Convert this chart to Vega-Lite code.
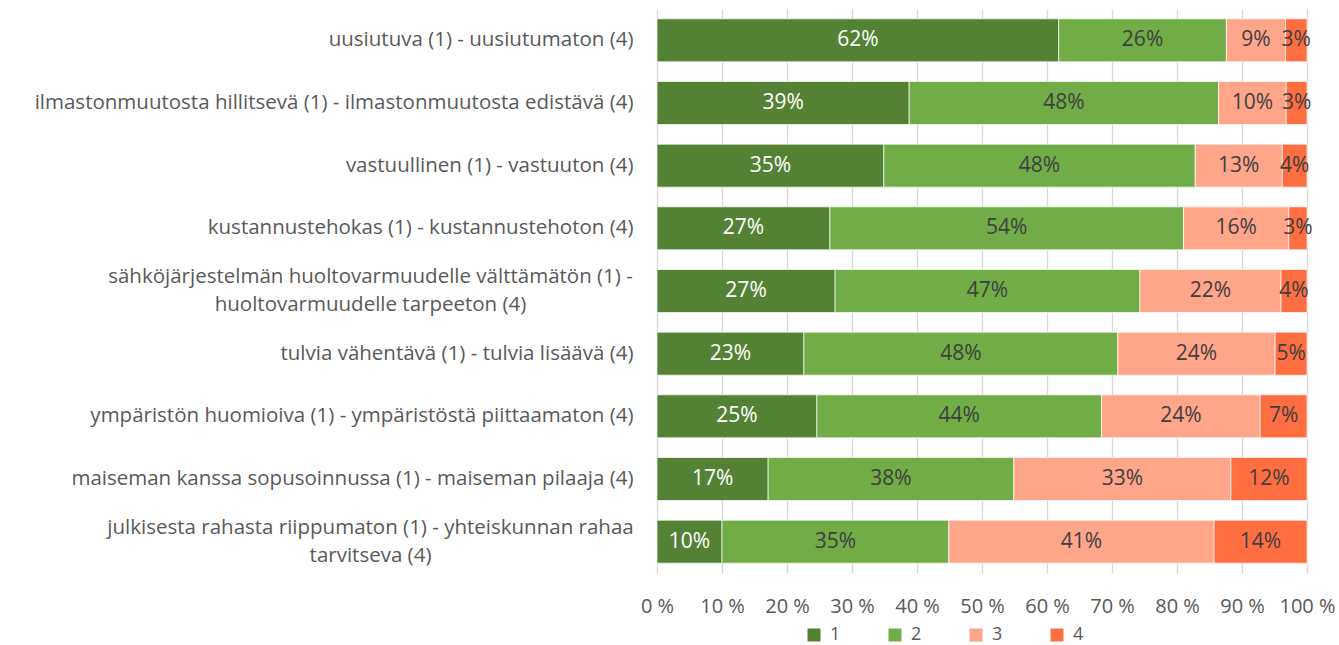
{
  "$schema": "https://vega.github.io/schema/vega-lite/v6.json",
  "width": 650,
  "height": 564,
  "autosize": {"type": "none"},
  "padding": {"left": 657, "top": 9, "right": 32, "bottom": 72},
  "background": "white",
  "config": {
    "view": {"stroke": null},
    "font": "Open Sans"
  },
  "data": {
    "values": [
      {"cat": "uusiutuva (1) - uusiutumaton (4)", "s": "1", "v": 61.8},
      {"cat": "uusiutuva (1) - uusiutumaton (4)", "s": "2", "v": 25.8},
      {"cat": "uusiutuva (1) - uusiutumaton (4)", "s": "3", "v": 9.1},
      {"cat": "uusiutuva (1) - uusiutumaton (4)", "s": "4", "v": 3.3},
      {"cat": "ilmastonmuutosta hillitsevä (1) - ilmastonmuutosta edistävä (4)", "s": "1", "v": 38.8},
      {"cat": "ilmastonmuutosta hillitsevä (1) - ilmastonmuutosta edistävä (4)", "s": "2", "v": 47.6},
      {"cat": "ilmastonmuutosta hillitsevä (1) - ilmastonmuutosta edistävä (4)", "s": "3", "v": 10.4},
      {"cat": "ilmastonmuutosta hillitsevä (1) - ilmastonmuutosta edistävä (4)", "s": "4", "v": 3.2},
      {"cat": "vastuullinen (1) - vastuuton (4)", "s": "1", "v": 34.9},
      {"cat": "vastuullinen (1) - vastuuton (4)", "s": "2", "v": 47.9},
      {"cat": "vastuullinen (1) - vastuuton (4)", "s": "3", "v": 13.4},
      {"cat": "vastuullinen (1) - vastuuton (4)", "s": "4", "v": 3.8},
      {"cat": "kustannustehokas (1) - kustannustehoton (4)", "s": "1", "v": 26.6},
      {"cat": "kustannustehokas (1) - kustannustehoton (4)", "s": "2", "v": 54.4},
      {"cat": "kustannustehokas (1) - kustannustehoton (4)", "s": "3", "v": 16.2},
      {"cat": "kustannustehokas (1) - kustannustehoton (4)", "s": "4", "v": 2.8},
      {"cat": "sähköjärjestelmän huoltovarmuudelle välttämätön (1) -|huoltovarmuudelle tarpeeton (4)", "s": "1", "v": 27.4},
      {"cat": "sähköjärjestelmän huoltovarmuudelle välttämätön (1) -|huoltovarmuudelle tarpeeton (4)", "s": "2", "v": 46.9},
      {"cat": "sähköjärjestelmän huoltovarmuudelle välttämätön (1) -|huoltovarmuudelle tarpeeton (4)", "s": "3", "v": 21.7},
      {"cat": "sähköjärjestelmän huoltovarmuudelle välttämätön (1) -|huoltovarmuudelle tarpeeton (4)", "s": "4", "v": 4.0},
      {"cat": "tulvia vähentävä (1) - tulvia lisäävä (4)", "s": "1", "v": 22.6},
      {"cat": "tulvia vähentävä (1) - tulvia lisäävä (4)", "s": "2", "v": 48.3},
      {"cat": "tulvia vähentävä (1) - tulvia lisäävä (4)", "s": "3", "v": 24.2},
      {"cat": "tulvia vähentävä (1) - tulvia lisäävä (4)", "s": "4", "v": 4.9},
      {"cat": "ympäristön huomioiva (1) - ympäristöstä piittaamaton (4)", "s": "1", "v": 24.6},
      {"cat": "ympäristön huomioiva (1) - ympäristöstä piittaamaton (4)", "s": "2", "v": 43.8},
      {"cat": "ympäristön huomioiva (1) - ympäristöstä piittaamaton (4)", "s": "3", "v": 24.4},
      {"cat": "ympäristön huomioiva (1) - ympäristöstä piittaamaton (4)", "s": "4", "v": 7.2},
      {"cat": "maiseman kanssa sopusoinnussa (1) - maiseman pilaaja (4)", "s": "1", "v": 17.1},
      {"cat": "maiseman kanssa sopusoinnussa (1) - maiseman pilaaja (4)", "s": "2", "v": 37.8},
      {"cat": "maiseman kanssa sopusoinnussa (1) - maiseman pilaaja (4)", "s": "3", "v": 33.4},
      {"cat": "maiseman kanssa sopusoinnussa (1) - maiseman pilaaja (4)", "s": "4", "v": 11.7},
      {"cat": "julkisesta rahasta riippumaton (1) - yhteiskunnan rahaa|tarvitseva (4)", "s": "1", "v": 10.0},
      {"cat": "julkisesta rahasta riippumaton (1) - yhteiskunnan rahaa|tarvitseva (4)", "s": "2", "v": 34.9},
      {"cat": "julkisesta rahasta riippumaton (1) - yhteiskunnan rahaa|tarvitseva (4)", "s": "3", "v": 40.8},
      {"cat": "julkisesta rahasta riippumaton (1) - yhteiskunnan rahaa|tarvitseva (4)", "s": "4", "v": 14.3}
    ]
  },
  "transform": [
    {"stack": "v", "groupby": ["cat"], "sort": [{"field": "s", "order": "ascending"}], "as": ["x0", "x1"]},
    {"calculate": "(datum.x0 + datum.x1) / 2", "as": "mid"},
    {"calculate": "format(datum.v, '.0f') + '%'", "as": "lbl"}
  ],
  "encoding": {
    "y": {
      "field": "cat",
      "type": "nominal",
      "sort": null,
      "scale": {"paddingInner": 0.314, "paddingOuter": 0.157},
      "axis": {
        "title": null,
        "domain": false,
        "ticks": false,
        "labelPadding": {"condition": {"test": "indexof(datum.value, '|') >= 0", "value": 287}, "value": 24},
        "labelAlign": {"condition": {"test": "indexof(datum.value, '|') >= 0", "value": "center"}, "value": "right"},
        "labelOffset": {"condition": {"test": "indexof(datum.value, '|') >= 0", "value": -14}, "value": 0},
        "labelFontSize": 20.5,
        "labelColor": "#595959",
        "labelLimit": 700,
        "labelLineHeight": 28,
        "labelExpr": "split(datum.label, '|')"
      }
    }
  },
  "layer": [
    {
      "mark": {"type": "bar", "stroke": "white", "strokeWidth": 0.7},
      "encoding": {
        "x": {
          "field": "x0",
          "type": "quantitative",
          "scale": {"domain": [0, 100], "nice": false},
          "axis": {
            "title": null,
            "domain": false,
            "ticks": false,
            "values": [0, 10, 20, 30, 40, 50, 60, 70, 80, 90, 100],
            "labelExpr": "datum.value + ' %'",
            "labelFontSize": 20,
            "labelColor": "#595959",
            "labelPadding": 23,
            "labelFlush": false,
            "gridColor": "#d9d9d9",
            "gridWidth": 1.3
          }
        },
        "x2": {"field": "x1"},
        "color": {
          "field": "s",
          "type": "nominal",
          "scale": {"domain": ["1", "2", "3", "4"], "range": ["#548235", "#70AD47", "#FFA58A", "#FF6E40"]},
          "legend": {
            "title": null,
            "orient": "none",
            "direction": "horizontal",
            "legendX": 148,
            "legendY": 617,
            "symbolType": "square",
            "symbolSize": 169,
            "symbolStrokeWidth": 0,
            "labelFontSize": 18,
            "labelColor": "#595959",
            "labelOffset": 7,
            "columnPadding": 45
          }
        }
      }
    },
    {
      "mark": {"type": "text", "fontSize": 21, "baseline": "middle", "align": "center"},
      "encoding": {
        "x": {"field": "mid", "type": "quantitative"},
        "text": {"field": "lbl", "type": "nominal"},
        "color": {
          "condition": {"test": "datum.s == '1'", "value": "white"},
          "value": "#404040"
        }
      }
    }
  ]
}
